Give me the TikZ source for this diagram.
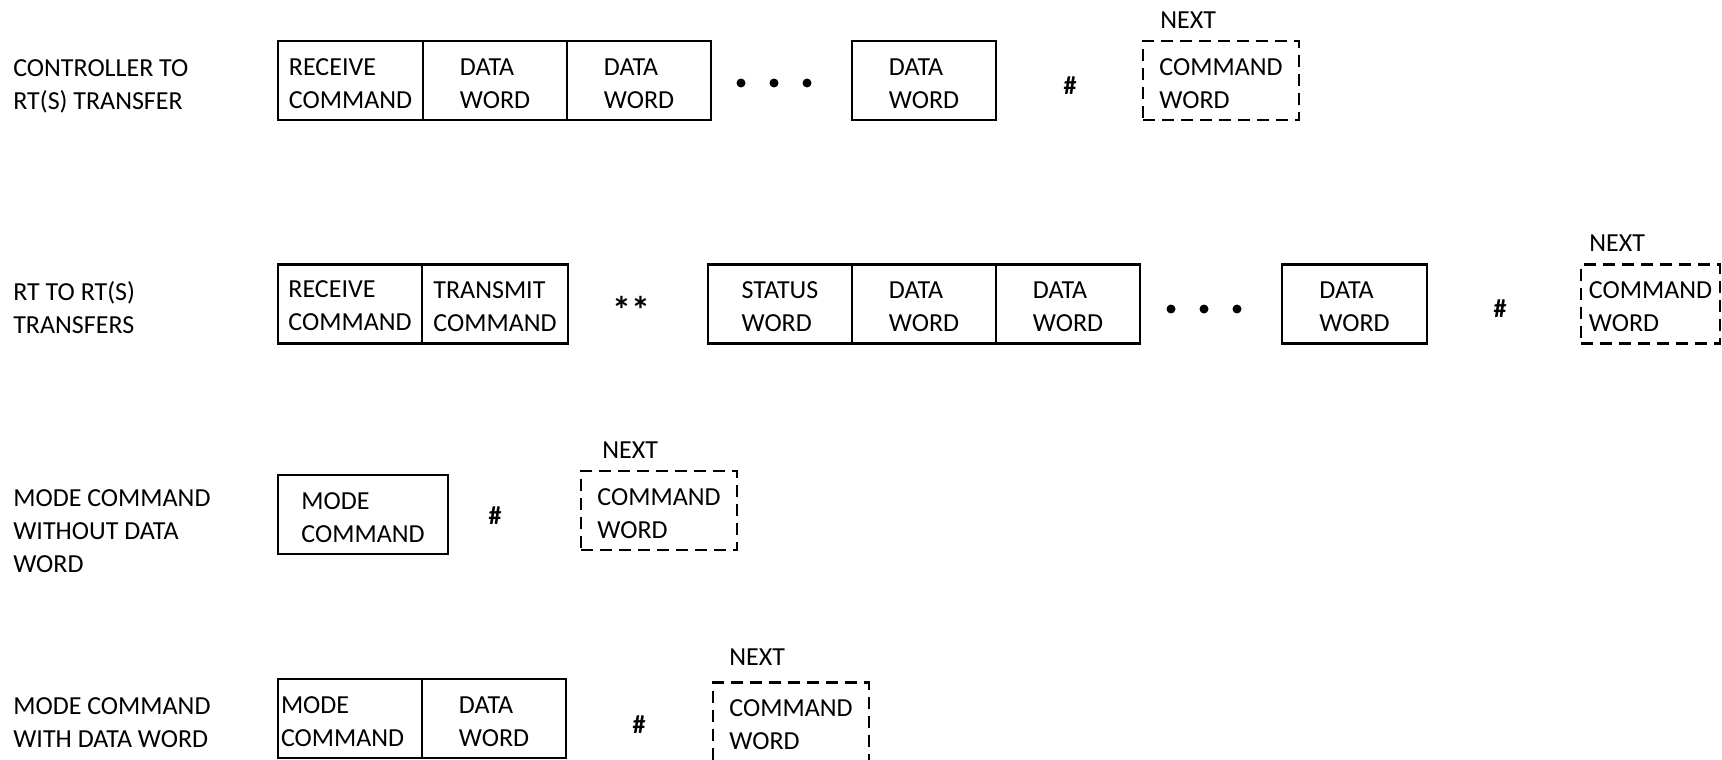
\documentclass[tikz,border=0pt]{standalone}
\usepackage{fontspec}
\setmainfont{Carlito}
\usetikzlibrary{positioning}

\newcommand{\wordstrut}{\rule{0pt}{23pt}}

\begin{document}
\begin{tikzpicture}[x=1pt, y=-1pt,
    every node/.style={font=\fontsize{26}{33}\selectfont, align=left, outer sep=0pt},
    word/.style={draw, line width=2.6pt, minimum width=144pt, minimum height=79pt},
    nextword/.style={draw, line width=2.4pt, dash pattern=on 12pt off 7pt, minimum width=156pt, minimum height=79pt},
    sepsign/.style={font=\fontsize{26}{33}\selectfont\bfseries}]
    \useasboundingbox (0, 0) rectangle (1722, 760);
    % controller to RT(s)
    \node[anchor=west] (lbl1) at (10, 86) {CONTROLLER TO\\RT(S) TRANSFER};
    \node[word, minimum width=145pt] (rcv1) at (350.5, 80.5) {\wordstrut RECEIVE\\COMMAND};
    \node[word, right=0pt of rcv1] (data11) {\wordstrut DATA\\WORD};
    \node[word, right=0pt of data11] (data12) {\wordstrut DATA\\WORD};
    \node[word] (data13) at (924, 80.5) {\wordstrut DATA\\WORD};
    \node[sepsign] (gap1) at (1070, 86) {\#};
    \node[nextword] (next1) at (1221, 80.5) {\wordstrut COMMAND\\WORD};
    \node[anchor=west] (nextlbl1) at (1157, 20) {NEXT};
    \foreach \x in {741, 774, 807}
        \fill (\x, 83) circle (4.5pt);
    % RT to RT(s)
    \node[anchor=west] (lbl2) at (10, 308) {RT TO RT(S)\\TRANSFERS};
    \node[word] (rcv2) at (350, 304) {\rule{0pt}{20pt}RECEIVE\\COMMAND};
    \node[word, minimum width=146pt, right=0pt of rcv2] (xmt2) {\wordstrut TRANSMIT\\COMMAND};
    \node[sepsign, font=\fontsize{38}{38}\selectfont\bfseries] (resp2) at (631, 310) {**};
    \node[word] (stat2) at (780, 304) {\wordstrut STATUS\\WORD};
    \node[word, right=0pt of stat2] (data21) {\wordstrut DATA\\WORD};
    \node[word, right=0pt of data21] (data22) {\wordstrut DATA\\WORD};
    \node[word, minimum width=145pt] (data23) at (1354.5, 304) {\wordstrut DATA\\WORD};
    \node[sepsign] (gap2) at (1500, 309) {\#};
    \node[nextword, minimum width=139pt] (next2) at (1650.5, 304) {\wordstrut COMMAND\\WORD};
    \node[anchor=west] (nextlbl2) at (1586, 243) {NEXT};
    \foreach \x in {1171, 1204, 1237}
        \fill (\x, 309) circle (4.5pt);
    % mode command without data word
    \node[anchor=west] (lbl3) at (10, 531) {MODE COMMAND\\WITHOUT DATA\\WORD};
    \node[word, minimum width=170pt] (mode3) at (363, 514.5) {\wordstrut MODE\\COMMAND};
    \node[sepsign] (gap3) at (495, 516) {\#};
    \node[nextword] (next3) at (659, 510.5) {\wordstrut COMMAND\\WORD};
    \node[anchor=west] (nextlbl3) at (599, 450) {NEXT};
    % mode command with data word
    \node[anchor=west] (lbl4) at (10, 723) {MODE COMMAND\\WITH DATA WORD};
    \node[word, text width=138pt, inner xsep=3pt] (mode4) at (350, 718.5) {\wordstrut MODE\\COMMAND};
    \node[word, right=0pt of mode4] (data4) {\wordstrut DATA\\WORD};
    \node[sepsign] (gap4) at (639, 725) {\#};
    \node[nextword] (next4) at (791, 722) {\wordstrut COMMAND\\WORD};
    \node[anchor=west] (nextlbl4) at (726, 657) {NEXT};
\end{tikzpicture}
\end{document}
